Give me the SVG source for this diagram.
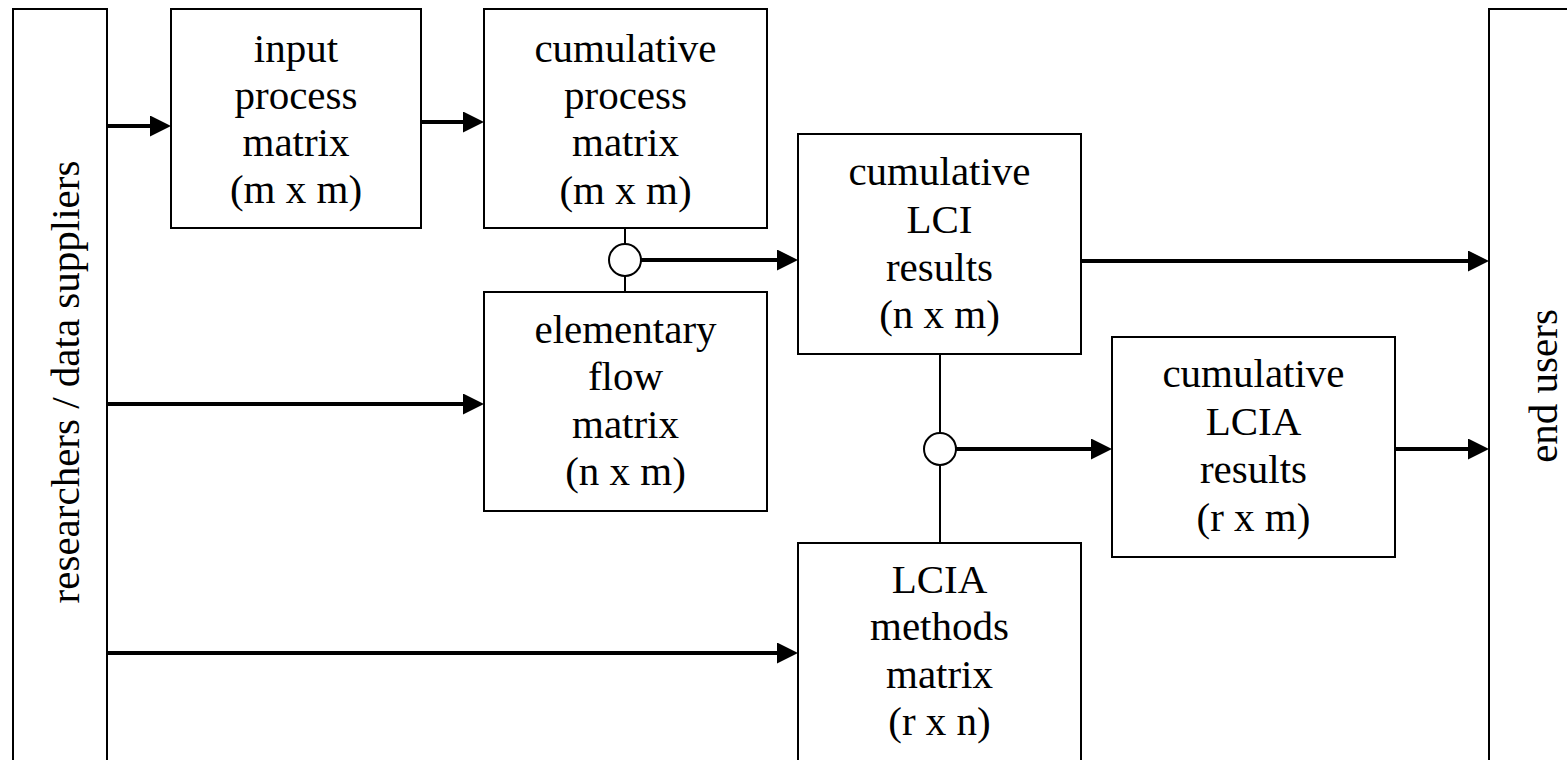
<svg xmlns="http://www.w3.org/2000/svg" width="1567" height="760" viewBox="0 0 1567 760">
<style>
.box{fill:#fff;stroke:#000;stroke-width:2}
.t{font-family:"Liberation Serif","Times New Roman",serif;font-size:41px;fill:#000;text-anchor:middle}
.arr{stroke:#000;stroke-width:4;fill:none}
.thin{stroke:#000;stroke-width:2;fill:none}
.junc{fill:#fff;stroke:#000;stroke-width:2}
</style>
<defs>
<marker id="ah" markerUnits="userSpaceOnUse" markerWidth="21" markerHeight="21" refX="2" refY="10.5" orient="auto">
<path d="M0,0 L21,10.5 L0,21 z" fill="#000"/>
</marker>
</defs>
<rect width="1567" height="760" fill="#fff"/>

<g id="connectors">
<line class="arr" x1="107" y1="126" x2="152" y2="126" marker-end="url(#ah)"/>
<line class="arr" x1="421" y1="122" x2="465" y2="122" marker-end="url(#ah)"/>
<line class="thin" x1="625" y1="228" x2="625" y2="292"/>
<line class="arr" x1="641" y1="260" x2="779" y2="260" marker-end="url(#ah)"/>
<line class="arr" x1="1081" y1="261" x2="1470" y2="261" marker-end="url(#ah)"/>
<line class="arr" x1="107" y1="404" x2="465" y2="404" marker-end="url(#ah)"/>
<line class="thin" x1="940" y1="354" x2="940" y2="543"/>
<line class="arr" x1="956" y1="449" x2="1093" y2="449" marker-end="url(#ah)"/>
<line class="arr" x1="1395" y1="449" x2="1470" y2="449" marker-end="url(#ah)"/>
<line class="arr" x1="107" y1="653" x2="779" y2="653" marker-end="url(#ah)"/>
<circle class="junc" cx="625" cy="260" r="16"/>
<circle class="junc" cx="940" cy="449" r="16"/>
</g>

<g id="researchers">
<rect class="box" x="13" y="9" width="94" height="770"/>
<text class="t" transform="translate(79,382) rotate(-90)">researchers / data suppliers</text>
</g>

<g id="end-users">
<rect class="box" x="1489" y="9" width="100" height="770"/>
<text class="t" transform="translate(1557,386) rotate(-90)">end users</text>
</g>

<g id="input-process">
<rect class="box" x="171" y="9" width="250" height="219"/>
<text class="t" x="296" y="62">input</text>
<text class="t" x="296" y="109">process</text>
<text class="t" x="296" y="156">matrix</text>
<text class="t" x="296" y="203">(m x m)</text>
</g>

<g id="cumulative-process">
<rect class="box" x="484" y="9" width="283" height="219"/>
<text class="t" x="625.5" y="62">cumulative</text>
<text class="t" x="625.5" y="109">process</text>
<text class="t" x="625.5" y="156">matrix</text>
<text class="t" x="625.5" y="204">(m x m)</text>
</g>

<g id="elementary-flow">
<rect class="box" x="484" y="292" width="283" height="219"/>
<text class="t" x="625.5" y="343">elementary</text>
<text class="t" x="625.5" y="390">flow</text>
<text class="t" x="625.5" y="438">matrix</text>
<text class="t" x="625.5" y="485">(n x m)</text>
</g>

<g id="cumulative-lci">
<rect class="box" x="798" y="134" width="283" height="220"/>
<text class="t" x="939.5" y="185">cumulative</text>
<text class="t" x="939.5" y="233">LCI</text>
<text class="t" x="939.5" y="281">results</text>
<text class="t" x="939.5" y="328">(n x m)</text>
</g>

<g id="cumulative-lcia">
<rect class="box" x="1112" y="337" width="283" height="220"/>
<text class="t" x="1253.5" y="387">cumulative</text>
<text class="t" x="1253.5" y="435">LCIA</text>
<text class="t" x="1253.5" y="483">results</text>
<text class="t" x="1253.5" y="531">(r x m)</text>
</g>

<g id="lcia-methods">
<rect class="box" x="798" y="543" width="283" height="240"/>
<text class="t" x="939.5" y="593">LCIA</text>
<text class="t" x="939.5" y="640">methods</text>
<text class="t" x="939.5" y="688">matrix</text>
<text class="t" x="939.5" y="735">(r x n)</text>
</g>
</svg>
